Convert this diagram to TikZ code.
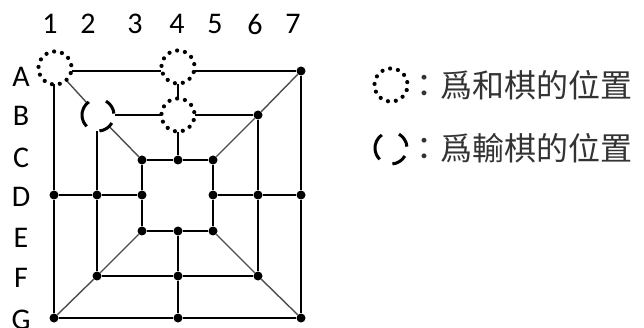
\documentclass[tikz,border=0pt]{standalone}
\usepackage{fontspec}
\setmainfont{Carlito}
\newfontfamily\cjk{Noto Sans CJK TC}
\begin{document}
\begin{tikzpicture}[x=1pt,y=-1pt,
  pt/.style={circle,fill=black,inner sep=0pt,minimum size=9pt},
  ring/.style={circle,inner sep=0pt,minimum size=34pt},
  edge/.style={line width=1.8pt},
  diag/.style={line width=1.4pt,black!70},
  lab/.style={inner sep=0pt,font=\fontsize{30}{33}\selectfont},
  legtext/.style={inner sep=0pt,anchor=west,font=\cjk\fontsize{32}{35}\selectfont,black!80}]
\useasboundingbox (0,0) rectangle (644,328);
% column labels
\foreach \t/\x in {1/50,2/88,3/135,4/177,5/215,6/255,7/293}
  \node[lab] (c\t) at (\x,24) {\t};
% row labels
\foreach \t/\y in {A/77,B/116,C/158,D/197,E/238,F/278,G/320}
  \node[lab] (r\t) at (21,\y) {\t};
% ring positions
\node[ring] (a1) at (55,68) {};
\node[ring] (a4) at (178,67) {};
\node[ring] (b4) at (178,115) {};
\node[ring] (b2) at (98,115) {};
% points
\node[pt] (a7) at (301,71) {};
\node[pt] (b6) at (258,115) {};
\node[pt] (c3) at (142,160) {};
\node[pt] (c4) at (178,160) {};
\node[pt] (c5) at (213,160) {};
\node[pt] (d1) at (54,195) {};
\node[pt] (d2) at (97,195) {};
\node[pt] (d3) at (142,195) {};
\node[pt] (d5) at (213,195) {};
\node[pt] (d6) at (258,195) {};
\node[pt] (d7) at (301,195) {};
\node[pt] (e3) at (142,231) {};
\node[pt] (e4) at (178,231) {};
\node[pt] (e5) at (213,231) {};
\node[pt] (f2) at (97,276) {};
\node[pt] (f4) at (178,276) {};
\node[pt] (f6) at (258,276) {};
\node[pt] (g1) at (54,318) {};
\node[pt] (g4) at (178,318) {};
\node[pt] (g7) at (301,318) {};
\coordinate (a1s) at (54,84);
\coordinate (b2s) at (97,131);
% outer square
\draw[edge] (a1.east |- a7) -- (a4.west |- a7);
\draw[edge] (a4.east |- a7) -- (a7);
\draw[edge] (a7) -- (d7) -- (g7) -- (g4) -- (g1) -- (d1);
\draw[edge] (d1) -- (a1s);
% middle square
\draw[edge] (b2) -- (b4);
\draw[edge] (b4) -- (b6) -- (d6) -- (f6) -- (f4) -- (f2) -- (d2);
\draw[edge] (d2) -- (b2s);
% inner square
\draw[edge] (c3) -- (c4) -- (c5) -- (d5) -- (e5) -- (e4) -- (e3) -- (d3) -- (c3);
% cross lines
\draw[edge] (a4) -- (b4);
\draw[edge] (b4) -- (c4);
\draw[edge] (d1) -- (d2) -- (d3);
\draw[edge] (d5) -- (d6) -- (d7);
\draw[edge] (e4) -- (f4) -- (g4);
% diagonals
\draw[diag] (a1) -- (b2);
\draw[diag] (b2) -- (c3);
\draw[diag] (a7) -- (b6) -- (c5);
\draw[diag] (g1) -- (f2) -- (e3);
\draw[diag] (g7) -- (f6) -- (e5);
% dotted rings
\foreach \n in {a1,a4,b4}
  \foreach \k in {0,...,12}
    \fill (\n) ++(\k*27.692+10:16.5pt) circle (2.1pt);
% dashed ring
\draw[line width=3pt] (b2) ++(125:16pt) arc[start angle=125,end angle=225,radius=16pt];
\draw[line width=3pt] (b2) ++(5:16pt) arc[start angle=5,end angle=60,radius=16pt];
\draw[line width=3pt] (b2) ++(-30:16pt) arc[start angle=-30,end angle=-85,radius=16pt];
% legend
\coordinate (l1) at (391,85);
\coordinate (l2) at (391,148);
\foreach \k in {0,...,12}
  \fill (l1) ++(\k*27.692+10:16.5pt) circle (2.1pt);
\draw[line width=3pt] (l2) ++(125:16pt) arc[start angle=125,end angle=225,radius=16pt];
\draw[line width=3pt] (l2) ++(5:16pt) arc[start angle=5,end angle=60,radius=16pt];
\draw[line width=3pt] (l2) ++(-30:16pt) arc[start angle=-30,end angle=-85,radius=16pt];
\node[legtext] (t1) at (408,85) {：爲和棋的位置};
\node[legtext] (t2) at (408,148) {：爲輸棋的位置};
\end{tikzpicture}
\end{document}
